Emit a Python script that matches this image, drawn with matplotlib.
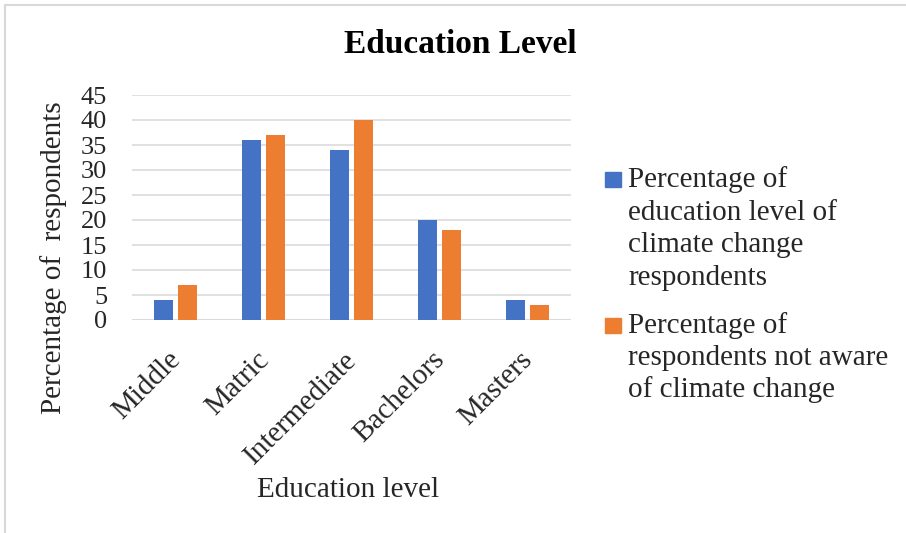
import matplotlib
matplotlib.use("Agg")
import matplotlib.pyplot as plt
import matplotlib.transforms as mtransforms
import numpy as np
from matplotlib.patches import Rectangle

categories = ["Middle", "Matric", "Intermediate", "Bachelors", "Masters"]
aware = [4, 36, 34, 20, 4]
not_aware = [7, 37, 40, 18, 3]
series_labels = [["Percentage of", "education level of", "climate change", "respondents"],
                 ["Percentage of", "respondents not aware", "of climate change"]]
series_colors = ['#4472C4', '#ED7D31']
yticks = [0, 5, 10, 15, 20, 25, 30, 35, 40, 45]

plt.rcParams['font.family'] = ['Liberation Serif', 'DejaVu Serif']
TXT = '#262626'
W, H = 906, 533

def fx(px):
    return px / W

def fy(py):
    return 1 - py / H

fig = plt.figure(figsize=(W / 100, H / 100), dpi=100)
fig.patches.append(Rectangle((fx(5), -0.1), 1.2, fy(5) + 0.1, transform=fig.transFigure,
                             fill=False, edgecolor='#D9D9D9', linewidth=1.5))
ax = fig.add_axes([fx(132), fy(320), (571 - 132) / W, (320 - 95) / H])

x = np.arange(len(categories))
w = 0.217
off = (w + 0.057) / 2
b1 = ax.bar(x - off, aware, w, color=series_colors[0], zorder=3)
b2 = ax.bar(x + off, not_aware, w, color=series_colors[1], zorder=3)

ax.set_xlim(-0.5, len(categories) - 0.5)
ax.set_ylim(0, 45)
ax.set_yticks(yticks)
ax.grid(axis='y', color='#D9D9D9', linewidth=1.1, zorder=0)
for s in ax.spines.values():
    s.set_visible(False)
ax.axhline(0, color='#D9D9D9', linewidth=1.2, zorder=1)
ax.tick_params(axis='y', length=0, labelsize=19, colors=TXT, pad=18)
ax.tick_params(axis='x', length=0, labelsize=21, colors=TXT, pad=26)
ax.set_xticks(x)
ax.set_xticklabels(categories, rotation=45, ha='right', va='center', rotation_mode='anchor')
shift = mtransforms.ScaledTranslation(1 / 100, 0, fig.dpi_scale_trans)
for lab in ax.get_xticklabels():
    lab.set_transform(lab.get_transform() + shift)

fig.text(fx(348), fy(490), "Education level", ha='center', va='center', fontsize=21, color=TXT)
fig.text(fx(54), fy(258), "Percentage of  respondents", ha='center', va='center',
         rotation=90, fontsize=21, color=TXT)
fig.text(fx(460), fy(53), "Education Level", ha='center', va='baseline',
         fontsize=24, fontweight='bold', color='#000000')

# legend (manual, handle aligned to the first line of each label)
baselines = [[187, 220, 252, 285], [333, 365, 397]]
for lines, bl, col in zip(series_labels, baselines, series_colors):
    fig.patches.append(Rectangle((fx(605), fy(bl[0])), 16 / W, 15 / H,
                                 transform=fig.transFigure, color=col))
    for line, b in zip(lines, bl):
        fig.text(fx(628), fy(b), line, ha='left', va='baseline', fontsize=21, color=TXT)

fig.savefig("out.png", dpi=100)
